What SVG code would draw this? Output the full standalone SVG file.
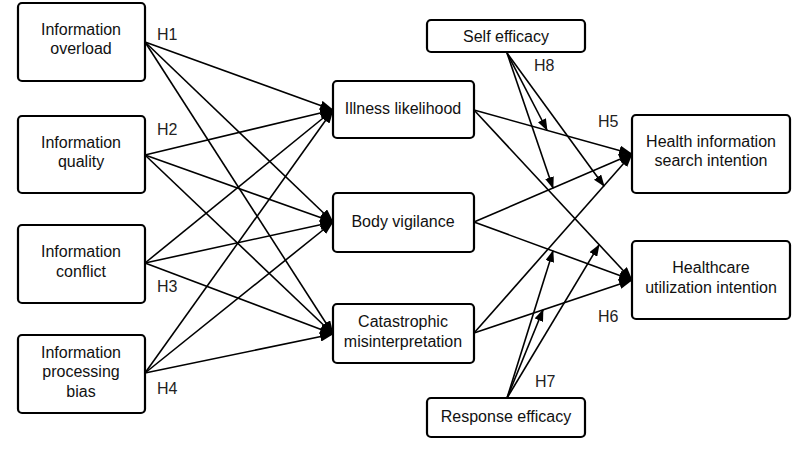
<svg xmlns="http://www.w3.org/2000/svg" width="808" height="455" viewBox="0 0 808 455">
<style>
.box{fill:#fff;stroke:#000;stroke-width:2.2}
.t{font-family:"Liberation Sans",Arial,sans-serif;font-size:16px;fill:#111;text-anchor:middle}
.h{font-family:"Liberation Sans",Arial,sans-serif;font-size:16px;fill:#222}
.c line{stroke:#000;stroke-width:1.6;marker-end:url(#ah)}
.m line{stroke:#000;stroke-width:1.6;marker-end:url(#am)}
</style>
<defs>
<marker id="ah" viewBox="0 0 14 10" refX="13" refY="5" markerWidth="14" markerHeight="10" markerUnits="userSpaceOnUse" orient="auto"><path d="M0,0 L14,5 L0,10 z" fill="#000"/></marker>
<marker id="am" viewBox="0 0 12 9" refX="11" refY="4.5" markerWidth="12" markerHeight="9" markerUnits="userSpaceOnUse" orient="auto"><path d="M0,0 L12,4.5 L0,9 z" fill="#000"/></marker>
</defs>
<rect width="808" height="455" fill="#fff"/>
<g class="c" id="connectors">
<line x1="145" y1="42" x2="333" y2="110"/>
<line x1="145" y1="42" x2="333" y2="222"/>
<line x1="145" y1="42" x2="333" y2="334"/>
<line x1="145" y1="155" x2="333" y2="110"/>
<line x1="145" y1="155" x2="333" y2="222"/>
<line x1="145" y1="155" x2="333" y2="334"/>
<line x1="145" y1="263" x2="333" y2="110"/>
<line x1="145" y1="263" x2="333" y2="222"/>
<line x1="145" y1="263" x2="333" y2="334"/>
<line x1="145" y1="373" x2="333" y2="110"/>
<line x1="145" y1="373" x2="333" y2="222"/>
<line x1="145" y1="373" x2="333" y2="334"/>
<line x1="474" y1="110" x2="632" y2="154"/>
<line x1="474" y1="110" x2="632" y2="280"/>
<line x1="474" y1="222" x2="632" y2="154"/>
<line x1="474" y1="222" x2="632" y2="280"/>
<line x1="474" y1="333" x2="632" y2="154"/>
<line x1="474" y1="333" x2="632" y2="280"/>
</g>
<g class="m" id="moderators">
<line x1="507" y1="53" x2="547" y2="130"/>
<line x1="507" y1="53" x2="553" y2="188"/>
<line x1="507" y1="53" x2="604" y2="186"/>
<line x1="507" y1="398" x2="599" y2="245"/>
<line x1="507" y1="398" x2="553" y2="251"/>
<line x1="507" y1="398" x2="543" y2="310"/>
</g>
<g id="n1"><rect class="box" x="18" y="3" width="127" height="78" rx="4"/><text class="t" x="81" y="35">Information</text><text class="t" x="81" y="54">overload</text></g>
<g id="n2"><rect class="box" x="18" y="116" width="127" height="77" rx="4"/><text class="t" x="81" y="148">Information</text><text class="t" x="81" y="167">quality</text></g>
<g id="n3"><rect class="box" x="18" y="225" width="127" height="78" rx="4"/><text class="t" x="81" y="257">Information</text><text class="t" x="81" y="277">conflict</text></g>
<g id="n4"><rect class="box" x="18" y="335" width="127" height="78" rx="4"/><text class="t" x="81" y="358">Information</text><text class="t" x="81" y="377">processing</text><text class="t" x="81" y="397">bias</text></g>
<g id="n5"><rect class="box" x="333" y="81" width="141" height="57" rx="4"/><text class="t" x="403" y="114">Illness likelihood</text></g>
<g id="n6"><rect class="box" x="333" y="193" width="141" height="59" rx="4"/><text class="t" x="403" y="227">Body vigilance</text></g>
<g id="n7"><rect class="box" x="333" y="304" width="141" height="59" rx="4"/><text class="t" x="403" y="327">Catastrophic</text><text class="t" x="403" y="347">misinterpretation</text></g>
<g id="n8"><rect class="box" x="427" y="20" width="158" height="32" rx="4"/><text class="t" x="506" y="42">Self efficacy</text></g>
<g id="n9"><rect class="box" x="427" y="398" width="158" height="39" rx="4"/><text class="t" x="506" y="422">Response efficacy</text></g>
<g id="n10"><rect class="box" x="632" y="115" width="158" height="78" rx="4"/><text class="t" x="711" y="147">Health information</text><text class="t" x="711" y="166">search intention</text></g>
<g id="n11"><rect class="box" x="632" y="241" width="158" height="78" rx="4"/><text class="t" x="711" y="273">Healthcare</text><text class="t" x="711" y="293">utilization intention</text></g>
<g id="labels">
<text class="h" x="157" y="40">H1</text>
<text class="h" x="157" y="135">H2</text>
<text class="h" x="157" y="292">H3</text>
<text class="h" x="157" y="394">H4</text>
<text class="h" x="598" y="127">H5</text>
<text class="h" x="598" y="322">H6</text>
<text class="h" x="535" y="387">H7</text>
<text class="h" x="534" y="71">H8</text>
</g>
</svg>
